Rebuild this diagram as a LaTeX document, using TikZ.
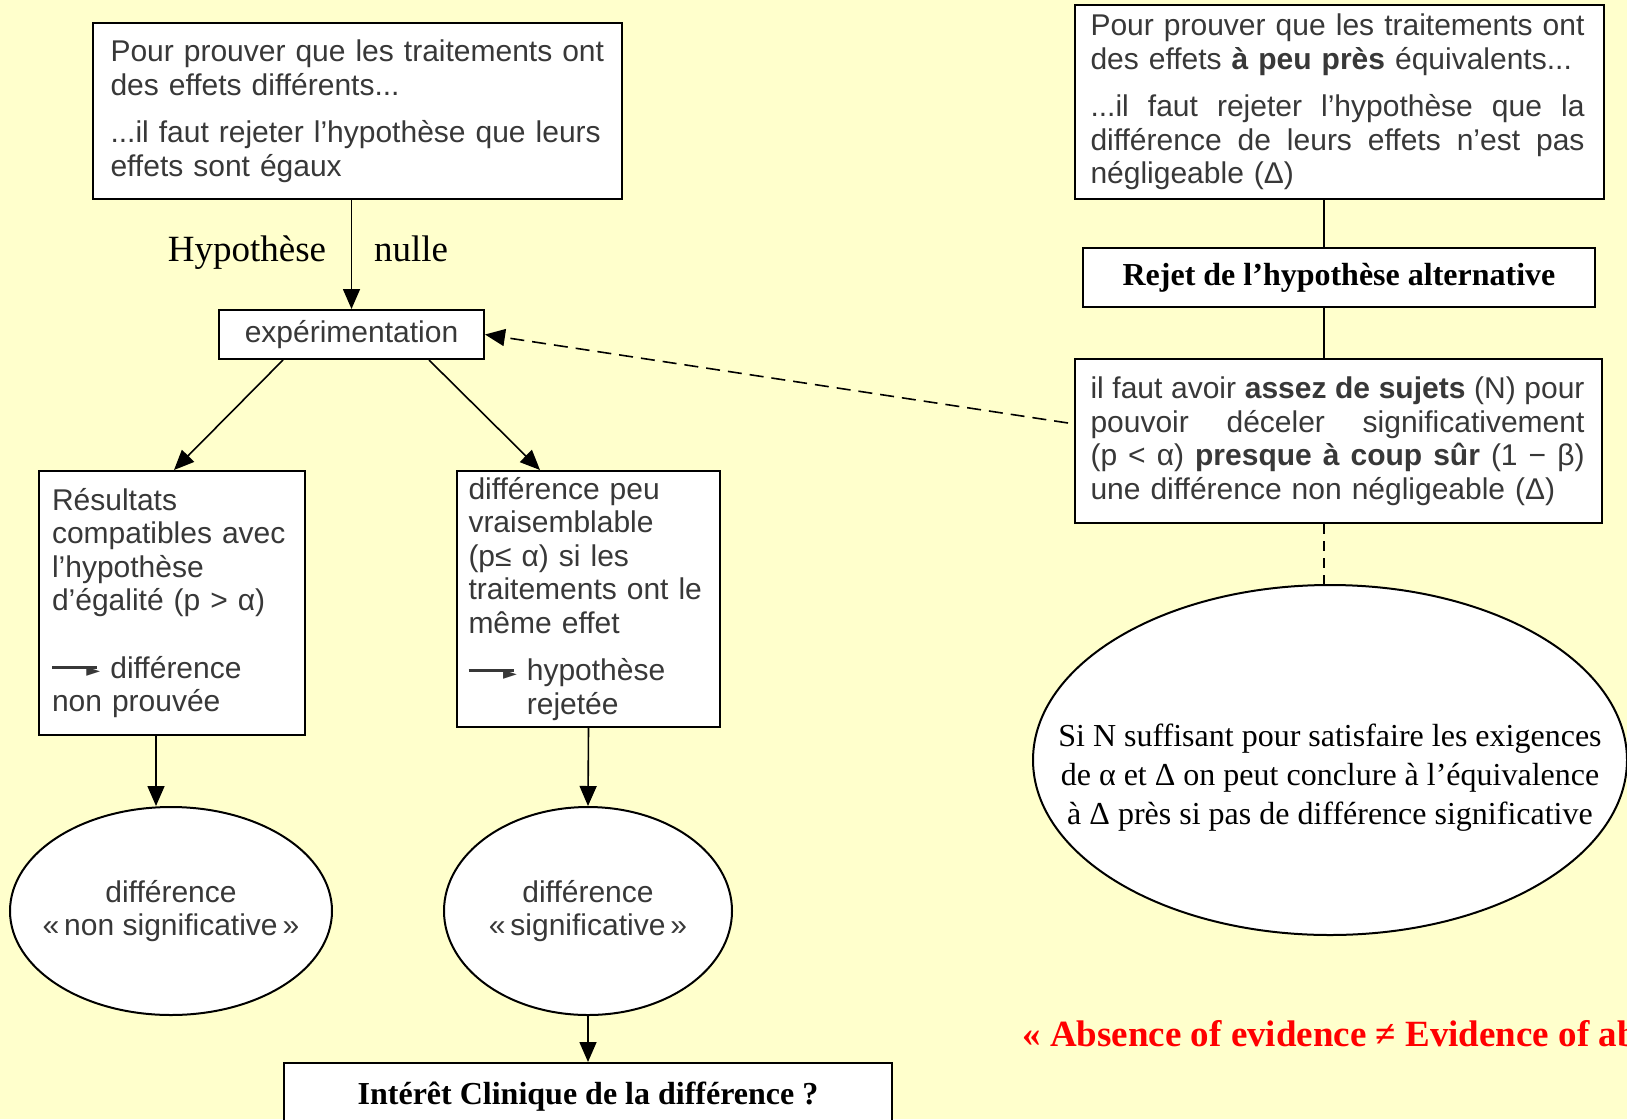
\documentclass[tikz,border=0pt]{standalone}
\usepackage{fontspec}
\setmainfont{Liberation Serif}
\setsansfont{Liberation Sans}
\newfontfamily\dejavu{DejaVu Sans}
\usetikzlibrary{arrows.meta,shapes.geometric}
\definecolor{bgyellow}{HTML}{FFFFCC}
\definecolor{scangray}{HTML}{383838}
\newcommand\scanarrow{\raisebox{0.3em}{\rule{1.5em}{0.09em}}\kern-0.35em{\dejavu\fontsize{9}{9}\selectfont\raisebox{0.1em}{►}}}
\newcommand\jline[2]{\leavevmode{\spaceskip=0.28em plus 3em minus 0.05em\xspaceskip=\spaceskip\hbox to #1{#2}}}
\begin{document}
\begin{tikzpicture}[x=0.5pt,y=-0.5pt,
  box/.style={draw=black,line width=1pt,fill=white,inner sep=0pt},
  scan/.style={font=\sffamily\fontsize{15}{16.75}\selectfont,text=scangray},
  serifb/.style={font=\rmfamily\bfseries\fontsize{16}{19}\selectfont},
  oval/.style={draw=black,line width=1pt,fill=white,ellipse,inner sep=0pt},
  arr/.style={line width=0.8pt,-{Triangle[length=10pt,width=8.5pt]}},
  link/.style={line width=0.8pt}]
\useasboundingbox[fill=bgyellow] (0,0) rectangle (1627,1119);
\clip (0,0) rectangle (1627,1119);

% left column
\node[box,scan,minimum width=264.5pt,minimum height=88pt,text width=247pt,align=left] (q1) at (357.5,111)
  {Pour prouver que les traitements ont\\des effets différents...\\[7pt]...il faut rejeter l’hypothèse que leurs\\effets sont égaux};
\node[box,scan,minimum width=132.5pt,minimum height=24.5pt] (exp) at (351.5,334.5) {expérimentation};
\node[anchor=base,font=\rmfamily\fontsize{18.5}{22}\selectfont,inner sep=0pt] (hyp) at (247,261) {Hypothèse};
\node[anchor=base,font=\rmfamily\fontsize{18.5}{22}\selectfont,inner sep=0pt] (nul) at (411,261) {nulle};

\node[box,scan,minimum width=133pt,minimum height=132pt,text width=120pt,align=left] (res) at (172,603)
  {Résultats\\compatibles avec\\l’hypothèse\\d’égalité (p > α)\\[17pt]\scanarrow\ différence\\non prouvée};
\node[box,scan,minimum width=131.5pt,minimum height=128pt,text width=120pt,align=left] (mid) at (588.5,599)
  {différence peu\\vraisemblable\\(p≤ α) si les\\traitements ont le\\même effet\\[7pt]\scanarrow\ hypothèse\\\hphantom{\scanarrow\ }rejetée};

\node[oval,minimum width=161pt,minimum height=104pt] (ns) at (171,911) {};
\node[scan,align=center,inner sep=0pt] (nstext) at (ns.center) {différence\\«\,non significative\,»};
\node[oval,minimum width=144pt,minimum height=104pt] (sig) at (588,911) {};
\node[scan,align=center,inner sep=0pt] (sigtext) at (sig.center) {différence\\«\,significative\,»};

\node[box,serifb,minimum width=304pt,minimum height=34pt] (clin) at (588,1097) {Intérêt Clinique de la différence ?};

% right column
\node[box,scan,minimum width=264.5pt,minimum height=97pt,text width=249pt,align=left] (alt) at (1339.5,102)
  {\jline{247pt}{Pour prouver que les traitements ont}\\des effets \textbf{à peu près} équivalents...\\[7pt]\jline{247pt}{...il faut rejeter l’hypothèse que la}\\\jline{247pt}{différence de leurs effets n’est pas}\\négligeable (Δ)};
\node[box,serifb,minimum width=256pt,minimum height=29.5pt] (rej) at (1339,277.5) {Rejet de l’hypothèse alternative};
\node[box,scan,minimum width=263.5pt,minimum height=82pt,text width=248pt,align=left] (req) at (1338.5,441)
  {\jline{247pt}{il faut avoir \textbf{assez de sujets} (N) pour}\\\jline{247pt}{pouvoir déceler significativement}\\\jline{247pt}{(p < α) \textbf{presque à coup sûr} (1 − β)}\\une différence non négligeable (Δ)};
\node[oval,minimum width=297pt,minimum height=175pt] (conc) at (1330,760) {};
\node[align=center,inner sep=0pt,font=\rmfamily\fontsize{16}{19.5}\selectfont] (conctext) at ([yshift=-9pt]conc.center)
  {Si N suffisant pour satisfaire les exigences\\de α et Δ on peut conclure à l’équivalence\\à Δ près si pas de différence significative};

\node[anchor=west,inner sep=0pt,text=red,font=\rmfamily\bfseries\fontsize{18.5}{22}\selectfont] (slogan) at (1022,1034)
  {« Absence of evidence ≠ Evidence of absence »};

% connectors
\coordinate (vx) at (1324,0);
\draw[arr] (q1.south -| exp.north) -- (exp.north);
\draw[arr] ([xshift=-34.25pt]exp.south) -- ([xshift=1pt]res.north);
\draw[arr] ([xshift=38.75pt]exp.south) -- ([xshift=-24.25pt]mid.north);
\draw[arr] ([xshift=-8pt]res.south) -- ([xshift=-7.5pt]ns.north);
\draw[arr] (mid.south) -- (sig.north);
\draw[arr] (sig.south) -- (clin.north);
\draw[link] (alt.south -| vx) -- (rej.north -| vx);
\draw[link] (rej.south -| vx) -- (req.north -| vx);
\draw[link,dash pattern=on 5pt off 3.5pt] (req.south -| vx) -- (conc.north -| vx);
\draw[arr,dash pattern=on 7pt off 4pt] ([xshift=-3pt,yshift=9pt]req.west) -- (exp.east);
\end{tikzpicture}
\end{document}
